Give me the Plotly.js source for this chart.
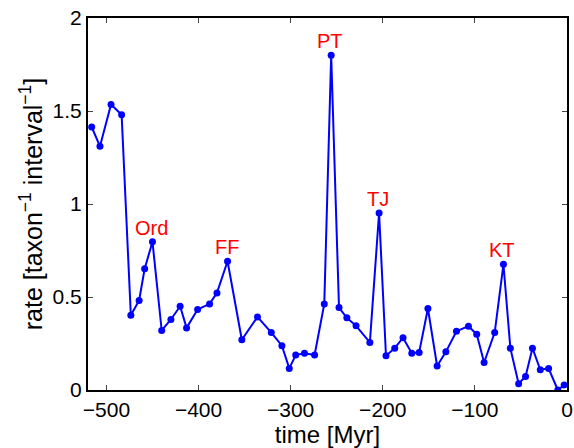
<!DOCTYPE html>
<html>
<head>
<meta charset="utf-8">
<script src="https://cdn.plot.ly/plotly-3.0.1.min.js"></script>
<style>html,body{margin:0;padding:0;background:#fff;}#chart{width:574px;height:448px;}</style>
</head>
<body>
<div id="chart"></div>
<script>
const time = [-516,-507,-495,-483.5,-473.5,-464.5,-458.5,-450,-440,-430,-420,-413,-401,-388,-380,-368.5,-353,-336,-321,-309.5,-301.5,-294.5,-285,-274,-263.5,-256,-247.5,-239,-229,-214,-204,-196.5,-187,-178,-168.5,-160.5,-151,-141,-131.5,-120,-107,-98,-90,-78.5,-69,-61.5,-52.5,-45,-37.5,-29,-20,-10,-3.1];
const rate = [1.414,1.31,1.535,1.48,0.402,0.481,0.652,0.797,0.32,0.379,0.45,0.334,0.433,0.463,0.522,0.692,0.27,0.393,0.309,0.238,0.116,0.188,0.198,0.188,0.463,1.80,0.443,0.388,0.345,0.256,0.951,0.184,0.225,0.281,0.198,0.202,0.438,0.129,0.205,0.316,0.343,0.30,0.148,0.309,0.676,0.225,0.034,0.073,0.225,0.109,0.116,0,0.027];
const eventNames = ['Ord','FF','PT','TJ','KT'];
const eventTimes = [-450,-368.5,-256,-204,-69];
const eventRates = [0.797,0.692,1.80,0.951,0.676];
const xTicks = [-500,-400,-300,-200,-100,0];
const yTicks = [0,0.5,1,1.5,2];

const font = 'Liberation Sans, Arial, Helvetica, sans-serif';
const annotations = eventNames.map((n,i)=>({
  x: eventTimes[i], y: eventRates[i], xref:'x', yref:'y',
  text: n, showarrow:false, yshift:14, xshift:-1,
  font:{family:font,size:20,color:'#ff0000'}
}));

Plotly.newPlot('chart',[{
  x: time, y: rate, type:'scatter', mode:'lines+markers',
  line:{color:'#0000ff',width:2},
  marker:{color:'#0000ff',size:7},
  cliponaxis:true
}],{
  width:574,height:448,
  margin:{l:88,r:6.5,t:18,b:57.5},
  paper_bgcolor:'#fff',plot_bgcolor:'#fff',
  showlegend:false,
  font:{family:font,size:22,color:'#000'},
  xaxis:{range:[-520,0],tickvals:xTicks,ticks:'inside',ticklen:5,tickwidth:1,
    showline:true,linewidth:2,linecolor:'#000',mirror:'ticks',showgrid:false,zeroline:false,
    tickfont:{family:font,size:21},
    title:{text:'time [Myr]',font:{family:font,size:24},standoff:0}},
  yaxis:{range:[0,2],tickvals:yTicks,ticks:'inside',ticklen:5,tickwidth:1,
    showline:true,linewidth:2,linecolor:'#000',mirror:'ticks',showgrid:false,zeroline:false,
    tickfont:{family:font,size:21},
    title:{text:'rate [taxon<sup>−1</sup> interval<sup>−1</sup>]',font:{family:font,size:25},standoff:3}},
  annotations: annotations
},{displayModeBar:false,staticPlot:true});
</script>
</body>
</html>
